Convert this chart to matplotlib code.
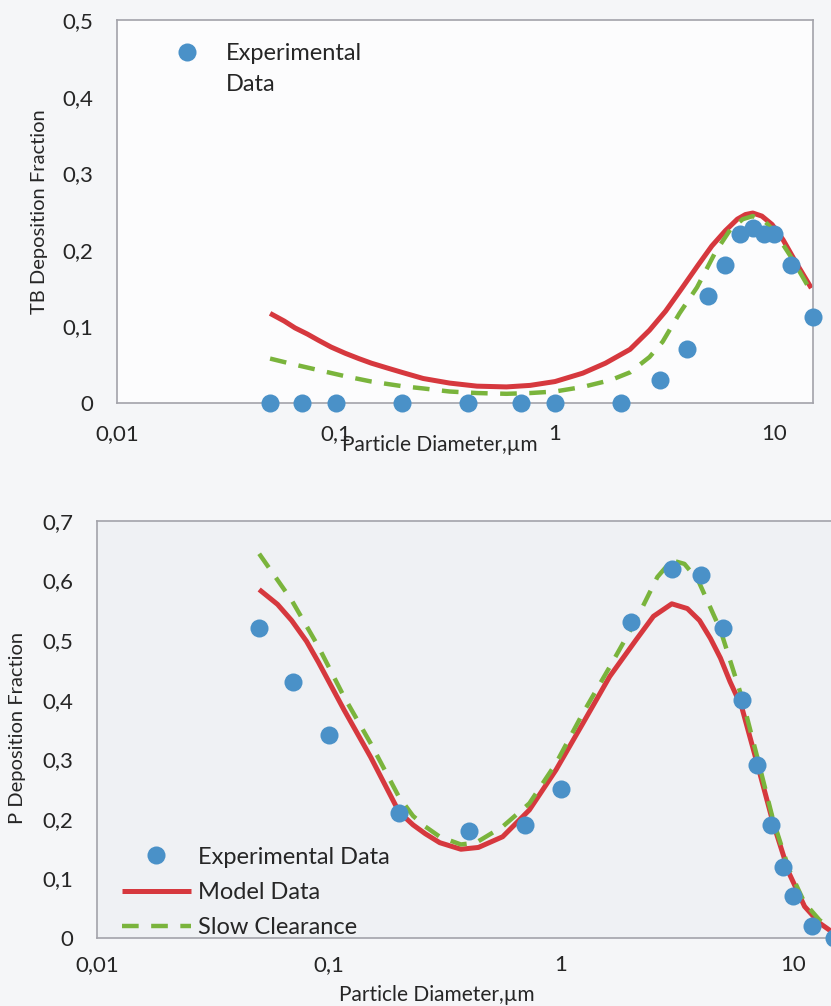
import matplotlib
matplotlib.use("Agg")
import matplotlib.pyplot as plt
from matplotlib.lines import Line2D
from matplotlib.ticker import FixedLocator, FixedFormatter, NullLocator

plt.rcParams['font.family'] = ['Lato', 'DejaVu Sans']
plt.rcParams['lines.scale_dashes'] = False

# ---------------- data ----------------
# Experimental particle diameters (um)
exp_x = [0.05, 0.07, 0.1, 0.2, 0.4, 0.7, 1, 2, 3, 4, 5, 6, 7, 8, 9, 10, 12, 15]

# TB (tracheobronchial) deposition
tb_exp = [0, 0, 0, 0, 0, 0, 0, 0, 0.03, 0.07, 0.14, 0.18, 0.22, 0.228, 0.22, 0.22, 0.18, 0.112]

tb_model_x = [0.05, 0.058, 0.065, 0.074, 0.083, 0.095, 0.11, 0.127, 0.145, 0.17, 0.2, 0.25, 0.33,
              0.44, 0.6, 0.77, 1.0, 1.34, 1.7, 2.2, 2.7, 3.2, 3.8, 4.5, 5.2, 6.0, 6.8, 7.4, 8.0,
              8.8, 9.8, 11, 12.5, 14.8]
tb_model_y = [0.117, 0.107, 0.098, 0.090, 0.082, 0.073, 0.065, 0.058, 0.052, 0.046, 0.040, 0.032,
              0.026, 0.022, 0.021, 0.023, 0.028, 0.039, 0.052, 0.070, 0.095, 0.120, 0.150, 0.180,
              0.205, 0.225, 0.240, 0.246, 0.248, 0.244, 0.233, 0.213, 0.185, 0.150]

tb_slow_x = [0.05, 0.065, 0.083, 0.11, 0.145, 0.2, 0.25, 0.33, 0.44, 0.6, 0.77, 1.0,
             1.34, 1.8, 2.2, 2.7, 3.1, 3.7, 4.45, 5.4, 6.3, 7.2, 8.0, 9.0, 10, 12, 14.8]
tb_slow_y = [0.058, 0.050, 0.043, 0.035, 0.028, 0.022, 0.019, 0.015, 0.013, 0.012, 0.013, 0.015,
             0.021, 0.030, 0.040, 0.060, 0.080, 0.117, 0.151, 0.197, 0.226, 0.240, 0.244, 0.238,
             0.225, 0.190, 0.145]

# P (pulmonary) deposition
p_exp = [0.52, 0.43, 0.34, 0.21, 0.18, 0.19, 0.25, 0.53, 0.62, 0.61, 0.52, 0.40, 0.29, 0.19,
         0.12, 0.07, 0.02, 0.0]

p_model_x = [0.05, 0.06, 0.069, 0.08, 0.09, 0.116, 0.151, 0.2, 0.23, 0.26, 0.3, 0.37, 0.44, 0.56,
             0.73, 0.95, 1.24, 1.62, 2.1, 2.5, 3.0, 3.5, 3.95, 4.4, 4.86, 5.35, 6.0, 7.0, 8.2, 9.6,
             11.2, 13, 14.5]
p_model_y = [0.585, 0.560, 0.533, 0.498, 0.463, 0.383, 0.304, 0.212, 0.190, 0.175, 0.160, 0.149,
             0.152, 0.170, 0.215, 0.282, 0.360, 0.439, 0.500, 0.540, 0.561, 0.553, 0.533, 0.503,
             0.470, 0.430, 0.388, 0.293, 0.193, 0.109, 0.053, 0.025, 0.012]

p_slow_x = [0.05, 0.069, 0.09, 0.116, 0.151, 0.2, 0.23, 0.26, 0.3, 0.37, 0.43, 0.56, 0.73, 0.95,
            1.24, 1.62, 2.1, 2.6, 3.0, 3.4, 3.9, 4.86, 6.0, 7.0, 8.2, 9.6, 11.2, 13, 14.5]
p_slow_y = [0.645, 0.567, 0.489, 0.405, 0.327, 0.237, 0.205, 0.187, 0.170, 0.157, 0.160, 0.187,
            0.226, 0.293, 0.377, 0.455, 0.533, 0.606, 0.634, 0.628, 0.600, 0.517, 0.405, 0.304,
            0.198, 0.115, 0.059, 0.030, 0.017]

x_ticks = [0.01, 0.1, 1, 10]
x_tick_labels = ['0,01', '0,1', '1', '10']
tb_yticks = [0, 0.1, 0.2, 0.3, 0.4, 0.5]
tb_ytick_labels = ['0', '0,1', '0,2', '0,3', '0,4', '0,5']
p_yticks = [0, 0.1, 0.2, 0.3, 0.4, 0.5, 0.6, 0.7]
p_ytick_labels = ['0', '0,1', '0,2', '0,3', '0,4', '0,5', '0,6', '0,7']

# ---------------- style ----------------
BLUE = '#4a91c8'
RED = '#d6383e'
GREEN = '#7ab43c'
TXT = '#262626'
SPINE = '#a3a3aa'
TICK_FS = 16
LEG_FS = 17
XLAB_FS = 15
YLAB_FS = 14.5

W, H = 831, 1006
fig = plt.figure(figsize=(W / 100, H / 100), dpi=100, facecolor='#f5f6f8')

ax1 = fig.add_axes([117 / W, 1 - 403 / H, (812.6 - 117) / W, (403 - 20) / H], facecolor='#fcfcfd')
ax2 = fig.add_axes([97 / W, 1 - 938 / H, (834 - 97) / W, (938 - 521) / H], facecolor='#eff1f4')


def style_axes(ax, yticks, ylabels, xpad, ypad):
    ax.set_xscale('log')
    ax.set_xlim(0.01, 15)
    ax.xaxis.set_major_locator(FixedLocator(x_ticks))
    ax.xaxis.set_major_formatter(FixedFormatter(x_tick_labels))
    ax.xaxis.set_minor_locator(NullLocator())
    ax.yaxis.set_major_locator(FixedLocator(yticks))
    ax.yaxis.set_major_formatter(FixedFormatter(ylabels))
    ax.tick_params(axis='x', length=0, pad=xpad, labelsize=TICK_FS, labelcolor=TXT)
    ax.tick_params(axis='y', length=0, pad=ypad, labelsize=TICK_FS, labelcolor=TXT)
    for s in ax.spines.values():
        s.set_color(SPINE)
        s.set_linewidth(1.2)


line_kw = dict(solid_joinstyle='round', solid_capstyle='butt')

# ---- top chart ----
ax1.plot(tb_model_x, tb_model_y, color=RED, lw=3.6, zorder=2, **line_kw)
ax1.plot(tb_slow_x, tb_slow_y, color=GREEN, lw=3.2, dashes=[12, 9], zorder=3)
ax1.plot(exp_x, tb_exp, 'o', color=BLUE, ms=13, mec='none', clip_on=False, zorder=4)
style_axes(ax1, tb_yticks, tb_ytick_labels, 15, 17)
ax1.set_ylim(0, 0.5)

h_exp = Line2D([], [], marker='o', ls='none', color=BLUE, ms=13, mec='none')
leg1 = ax1.legend([h_exp], ['Experimental'], loc='upper left', bbox_to_anchor=(0.066, 0.94),
                  frameon=False, fontsize=LEG_FS, handlelength=2.0, handletextpad=0.65,
                  borderaxespad=0, borderpad=0)
for t in leg1.get_texts():
    t.set_color(TXT)
fig.canvas.draw()
bb = leg1.get_texts()[0].get_window_extent(fig.canvas.get_renderer())
fig.text(bb.x0 / W, (bb.y0 - 31) / H, 'Data', fontsize=LEG_FS, color=TXT, ha='left', va='bottom')

fig.text(440 / W, 1 - 445 / H, 'Particle Diameter,\u00b5m', fontsize=XLAB_FS, color=TXT,
         ha='center', va='center')
fig.text(40 / W, 1 - 212 / H, 'TB Deposition Fraction', fontsize=YLAB_FS, color=TXT,
         ha='center', va='center', rotation=90)

# ---- bottom chart ----
ax2.plot(p_model_x, p_model_y, color=RED, lw=3.6, zorder=2, label='Model Data', **line_kw)
ax2.plot(p_slow_x, p_slow_y, color=GREEN, lw=3.2, dashes=[12, 9], zorder=3, label='Slow Clearance')
ax2.plot(exp_x, p_exp, 'o', color=BLUE, ms=13, mec='none', clip_on=False, zorder=4,
         label='Experimental Data')
style_axes(ax2, p_yticks, p_ytick_labels, 12, 17)
ax2.set_ylim(0, 0.7)

hs, ls = ax2.get_legend_handles_labels()
order = [2, 0, 1]
leg2 = ax2.legend([hs[i] for i in order], [ls[i] for i in order], loc='lower left',
                  bbox_to_anchor=(0.034, 0.0), frameon=False, fontsize=LEG_FS,
                  handlelength=2.9, handletextpad=0.3, labelspacing=0.6,
                  borderaxespad=0, borderpad=0)
for t in leg2.get_texts():
    t.set_color(TXT)

fig.text(437 / W, 1 - 995 / H, 'Particle Diameter,\u00b5m', fontsize=XLAB_FS, color=TXT,
         ha='center', va='center')
fig.text(18 / W, 1 - 728 / H, 'P Deposition Fraction', fontsize=YLAB_FS, color=TXT,
         ha='center', va='center', rotation=90)

fig.savefig('out.png', dpi=100, facecolor=fig.get_facecolor())
